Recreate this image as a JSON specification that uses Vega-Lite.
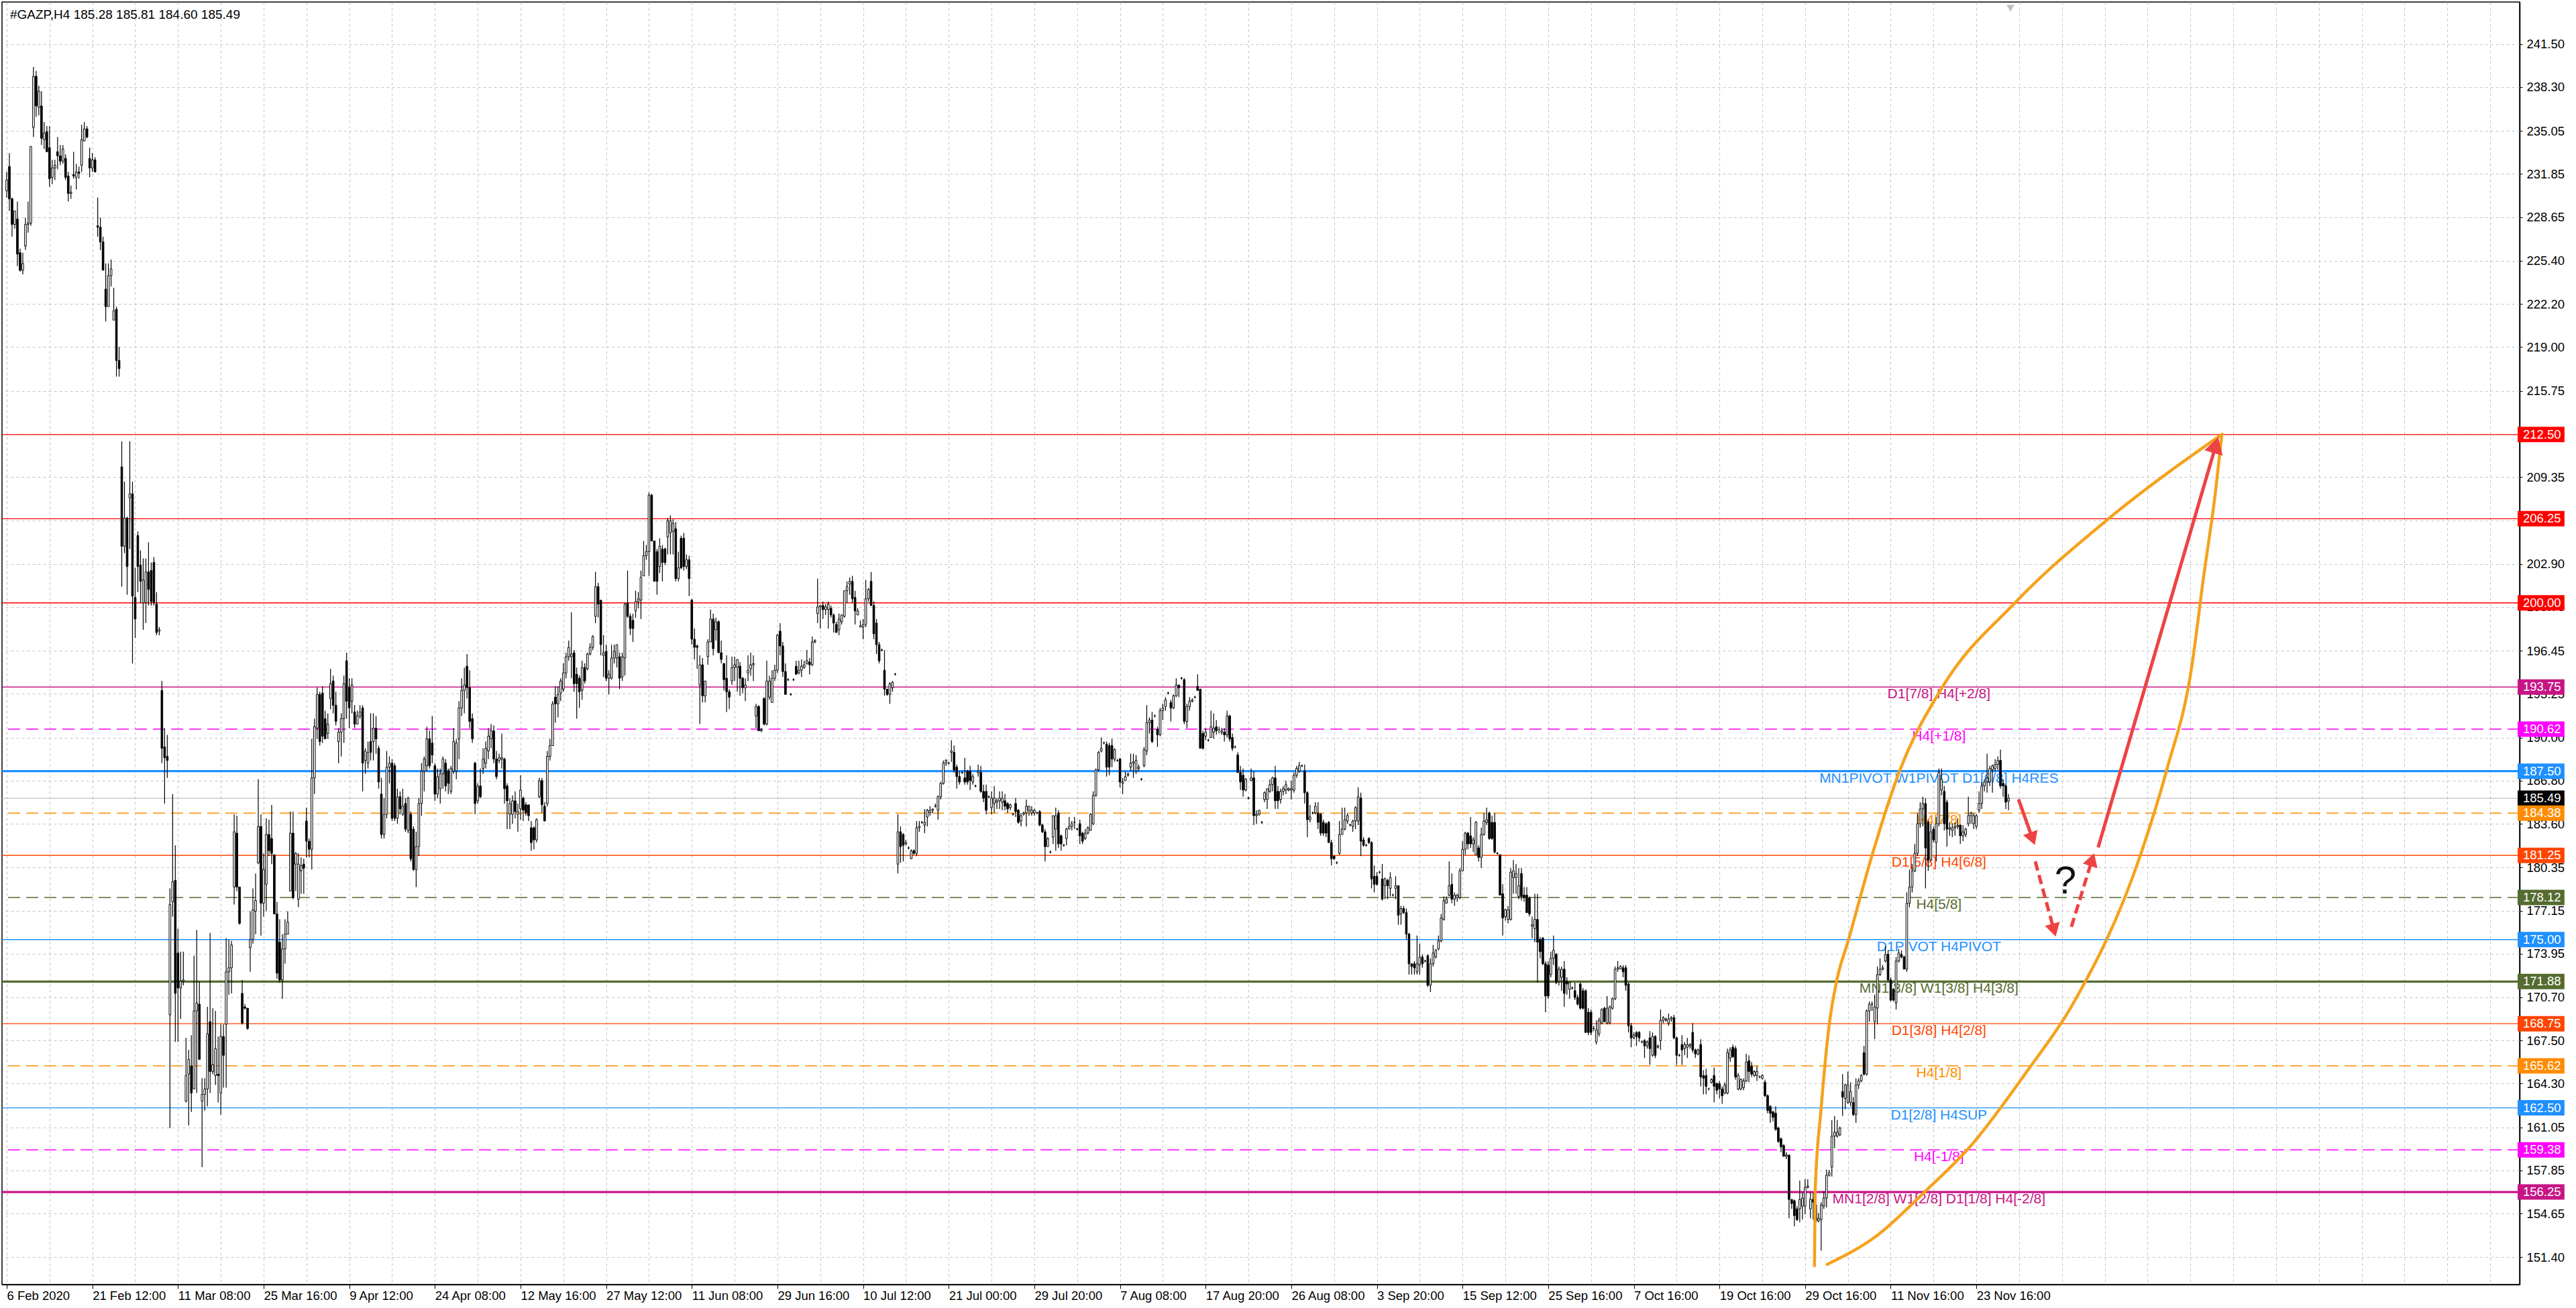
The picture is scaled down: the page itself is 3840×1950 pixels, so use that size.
{
  "$schema": "https://vega.github.io/schema/vega-lite/v6.json",
  "autosize": {"type": "none"},
  "padding": {"left": 3, "top": 3, "right": 84, "bottom": 35},
  "width": 3753,
  "height": 1912,
  "background": "white",
  "config": {
    "view": {"stroke": "black", "strokeWidth": 1.5},
    "font": "Liberation Sans",
    "axis": {"labelFont": "Liberation Sans", "labelFontSize": 18.5, "labelColor": "black", "domainColor": "black", "tickColor": "black", "gridColor": "#c4c4c4", "gridDash": [4, 4], "gridWidth": 1, "title": null, "zindex": 0}
  },
  "resolve": {"scale": {"size": "independent", "strokeDash": "independent", "angle": "independent"}},
  "datasets": {
    "bars": [
{"i":0,"o":230.6,"h":232.0,"l":230.1,"c":231.4},{"i":1,"o":232.4,"h":233.4,"l":229.1,"c":230.0},{"i":2,"o":230.0,"h":230.1,"l":227.2,"c":228.1},{"i":3,"o":228.1,"h":229.1,"l":227.8,"c":229.1},{"i":4,"o":228.5,"h":229.8,"l":225.0,"c":225.9},{"i":5,"o":226.0,"h":226.3,"l":224.6,"c":224.7},{"i":6,"o":224.7,"h":226.0,"l":224.4,"c":225.2},{"i":7,"o":226.5,"h":228.6,"l":226.2,"c":228.1},{"i":8,"o":228.1,"h":229.8,"l":227.5,"c":228.2},{"i":9,"o":228.2,"h":233.9,"l":228.0,"c":233.9},
{"i":10,"o":235.3,"h":239.8,"l":234.6,"c":239.1},{"i":11,"o":239.1,"h":239.5,"l":236.1,"c":236.9},{"i":12,"o":236.8,"h":238.4,"l":236.2,"c":238.0},{"i":13,"o":236.9,"h":238.0,"l":234.0,"c":234.5},{"i":14,"o":234.4,"h":235.7,"l":233.7,"c":234.9},{"i":15,"o":235.0,"h":235.4,"l":233.5,"c":233.5},{"i":16,"o":233.8,"h":235.4,"l":230.9,"c":231.5},{"i":17,"o":231.6,"h":232.9,"l":231.1,"c":232.3},{"i":18,"o":232.3,"h":232.9,"l":231.4,"c":232.5},{"i":19,"o":233.5,"h":234.6,"l":232.2,"c":233.2},
{"i":20,"o":233.2,"h":234.0,"l":232.5,"c":232.8},{"i":21,"o":232.8,"h":234.0,"l":232.6,"c":233.7},{"i":22,"o":233.0,"h":233.3,"l":231.4,"c":231.6},{"i":23,"o":231.7,"h":232.0,"l":229.8,"c":230.4},{"i":24,"o":230.4,"h":231.0,"l":230.0,"c":230.5},{"i":25,"o":231.8,"h":233.5,"l":231.5,"c":231.7},{"i":26,"o":231.6,"h":232.6,"l":230.7,"c":232.0},{"i":27,"o":232.0,"h":232.4,"l":231.5,"c":231.9},{"i":28,"o":232.5,"h":235.5,"l":232.0,"c":234.4},{"i":29,"o":234.3,"h":235.7,"l":234.3,"c":235.2},
{"i":30,"o":235.2,"h":235.4,"l":234.5,"c":234.6},{"i":31,"o":233.0,"h":233.8,"l":231.6,"c":232.3},{"i":32,"o":232.3,"h":233.4,"l":232.0,"c":232.9},{"i":33,"o":232.9,"h":233.1,"l":232.0,"c":232.0},{"i":34,"o":228.0,"h":230.1,"l":227.2,"c":227.9},{"i":35,"o":227.9,"h":228.6,"l":226.2,"c":226.8},{"i":36,"o":226.8,"h":227.2,"l":224.7,"c":224.7},{"i":37,"o":223.3,"h":225.2,"l":220.9,"c":222.0},{"i":38,"o":222.0,"h":225.2,"l":222.0,"c":224.3},{"i":39,"o":224.3,"h":225.5,"l":223.5,"c":224.8},
{"i":40,"o":221.0,"h":223.4,"l":221.0,"c":221.7},{"i":41,"o":221.8,"h":222.0,"l":216.8,"c":218.0},{"i":42,"o":218.0,"h":219.0,"l":216.8,"c":217.4},{"i":43,"o":210.1,"h":212.0,"l":201.2,"c":204.2},{"i":44,"o":204.2,"h":209.0,"l":203.7,"c":206.3},{"i":45,"o":206.3,"h":206.4,"l":200.6,"c":202.7},{"i":46,"o":207.8,"h":212.0,"l":204.0,"c":208.1},{"i":47,"o":208.1,"h":209.0,"l":195.5,"c":200.5},{"i":48,"o":200.4,"h":202.6,"l":197.4,"c":198.8},{"i":49,"o":205.0,"h":205.3,"l":200.8,"c":202.7},
{"i":50,"o":202.8,"h":203.9,"l":200.0,"c":201.6},{"i":51,"o":200.0,"h":203.3,"l":198.0,"c":201.7},{"i":52,"o":200.0,"h":203.3,"l":198.5,"c":202.3},{"i":53,"o":202.3,"h":204.5,"l":199.8,"c":201.0},{"i":54,"o":202.4,"h":203.0,"l":199.8,"c":200.1},{"i":55,"o":203.0,"h":203.4,"l":199.8,"c":200.0},{"i":56,"o":199.9,"h":200.8,"l":197.6,"c":197.8},{"i":57,"o":197.9,"h":198.2,"l":197.6,"c":198.0},{"i":58,"o":193.5,"h":194.2,"l":188.1,"c":189.2},{"i":59,"o":189.3,"h":190.7,"l":185.1,"c":188.5},
{"i":60,"o":188.6,"h":190.2,"l":187.0,"c":188.3},{"i":61,"o":169.4,"h":178.8,"l":161.0,"c":177.6},{"i":62,"o":177.8,"h":185.8,"l":176.7,"c":179.3},{"i":63,"o":179.4,"h":182.0,"l":167.4,"c":171.0},{"i":64,"o":174.0,"h":175.8,"l":167.4,"c":171.4},{"i":65,"o":171.4,"h":174.1,"l":169.1,"c":171.9},{"i":66,"o":171.9,"h":174.1,"l":171.6,"c":172.0},{"i":67,"o":163.0,"h":167.7,"l":162.9,"c":164.9},{"i":68,"o":165.0,"h":166.8,"l":161.2,"c":166.1},{"i":69,"o":165.6,"h":167.9,"l":162.2,"c":163.6},
{"i":70,"o":163.9,"h":173.8,"l":163.9,"c":169.7},{"i":71,"o":169.7,"h":175.7,"l":163.6,"c":170.3},{"i":72,"o":170.2,"h":171.9,"l":166.1,"c":166.1},{"i":73,"o":163.0,"h":164.7,"l":158.1,"c":163.5},{"i":74,"o":163.5,"h":164.7,"l":162.3,"c":163.9},{"i":75,"o":163.9,"h":170.0,"l":162.6,"c":168.0},{"i":76,"o":168.9,"h":175.5,"l":163.6,"c":165.2},{"i":77,"o":165.2,"h":169.9,"l":165.0,"c":165.7},{"i":78,"o":164.9,"h":169.7,"l":164.2,"c":166.9},{"i":79,"o":165.0,"h":167.8,"l":162.9,"c":164.9},
{"i":80,"o":163.6,"h":168.7,"l":162.0,"c":167.8},{"i":81,"o":167.8,"h":168.7,"l":164.0,"c":166.4},{"i":82,"o":168.7,"h":175.1,"l":164.0,"c":172.6},{"i":83,"o":172.6,"h":175.0,"l":170.9,"c":172.9},{"i":84,"o":172.9,"h":174.9,"l":171.0,"c":174.6},{"i":85,"o":178.9,"h":184.3,"l":177.6,"c":183.0},{"i":86,"o":182.9,"h":184.2,"l":178.6,"c":178.9},{"i":87,"o":178.9,"h":178.9,"l":176.1,"c":176.2},{"i":88,"o":171.0,"h":172.0,"l":168.7,"c":168.8},{"i":89,"o":170.0,"h":170.2,"l":169.8,"c":169.9},
{"i":90,"o":169.9,"h":169.9,"l":168.3,"c":168.4},{"i":91,"o":174.4,"h":177.1,"l":172.6,"c":175.0},{"i":92,"o":175.0,"h":178.8,"l":174.7,"c":177.2},{"i":93,"o":177.1,"h":179.9,"l":175.4,"c":177.9},{"i":94,"o":180.7,"h":186.9,"l":180.6,"c":183.4},{"i":95,"o":183.4,"h":184.3,"l":175.3,"c":177.7},{"i":96,"o":177.7,"h":181.4,"l":176.7,"c":180.2},{"i":97,"o":179.1,"h":184.0,"l":177.1,"c":182.8},{"i":98,"o":182.8,"h":183.9,"l":181.2,"c":181.6},{"i":99,"o":182.5,"h":185.0,"l":180.6,"c":181.4},
{"i":100,"o":181.3,"h":181.3,"l":176.9,"c":176.9},{"i":101,"o":176.9,"h":177.8,"l":172.1,"c":172.5},{"i":102,"o":174.8,"h":176.5,"l":171.8,"c":172.0},{"i":103,"o":172.0,"h":175.4,"l":170.6,"c":174.3},{"i":104,"o":174.3,"h":176.5,"l":173.2,"c":175.4},{"i":105,"o":175.4,"h":177.1,"l":175.4,"c":176.3},{"i":106,"o":178.6,"h":184.5,"l":178.6,"c":182.9},{"i":107,"o":182.9,"h":184.5,"l":178.0,"c":178.1},{"i":108,"o":180.6,"h":181.5,"l":178.6,"c":181.4},{"i":109,"o":178.0,"h":181.4,"l":177.4,"c":180.6},
{"i":110,"o":180.1,"h":181.1,"l":178.4,"c":180.5},{"i":111,"o":180.6,"h":181.0,"l":178.4,"c":180.3},{"i":112,"o":183.8,"h":184.8,"l":181.1,"c":182.3},{"i":113,"o":182.3,"h":182.5,"l":181.1,"c":181.7},{"i":114,"o":181.7,"h":189.9,"l":180.2,"c":187.0},{"i":115,"o":187.0,"h":191.4,"l":185.8,"c":190.8},{"i":116,"o":190.7,"h":193.7,"l":189.9,"c":193.2},{"i":117,"o":193.2,"h":193.4,"l":189.4,"c":189.7},{"i":118,"o":193.3,"h":193.8,"l":189.6,"c":190.1},{"i":119,"o":191.4,"h":192.0,"l":189.9,"c":189.9},
{"i":120,"o":190.3,"h":191.8,"l":189.9,"c":191.0},{"i":121,"o":192.9,"h":195.1,"l":192.1,"c":194.0},{"i":122,"o":194.2,"h":194.6,"l":191.8,"c":192.4},{"i":123,"o":192.4,"h":193.4,"l":190.9,"c":191.2},{"i":124,"o":189.7,"h":190.7,"l":188.1,"c":190.4},{"i":125,"o":190.4,"h":191.8,"l":188.6,"c":191.4},{"i":126,"o":191.4,"h":194.6,"l":189.6,"c":194.0},{"i":127,"o":195.7,"h":196.3,"l":191.4,"c":192.7},{"i":128,"o":193.7,"h":194.4,"l":190.7,"c":192.2},{"i":129,"o":192.7,"h":194.4,"l":191.8,"c":193.9},
{"i":130,"o":191.9,"h":192.4,"l":190.7,"c":191.0},{"i":131,"o":191.0,"h":192.0,"l":191.0,"c":191.6},{"i":132,"o":191.6,"h":192.4,"l":191.4,"c":191.9},{"i":133,"o":192.2,"h":192.4,"l":186.0,"c":188.1},{"i":134,"o":188.3,"h":189.2,"l":187.3,"c":189.0},{"i":135,"o":188.1,"h":189.7,"l":187.7,"c":188.9},{"i":136,"o":189.7,"h":191.8,"l":188.3,"c":188.9},{"i":137,"o":189.7,"h":191.8,"l":188.3,"c":190.7},{"i":138,"o":190.7,"h":191.6,"l":188.8,"c":189.9},{"i":139,"o":189.2,"h":189.4,"l":186.2,"c":186.7},
{"i":140,"o":185.8,"h":187.0,"l":182.5,"c":182.8},{"i":141,"o":182.8,"h":185.5,"l":182.5,"c":184.3},{"i":142,"o":184.3,"h":189.0,"l":184.0,"c":187.8},{"i":143,"o":187.8,"h":188.6,"l":186.6,"c":188.1},{"i":144,"o":188.1,"h":188.4,"l":183.8,"c":184.0},{"i":145,"o":187.9,"h":188.1,"l":183.8,"c":184.0},{"i":146,"o":184.0,"h":186.2,"l":183.6,"c":185.6},{"i":147,"o":185.6,"h":186.0,"l":184.3,"c":184.7},{"i":148,"o":184.3,"h":186.2,"l":184.2,"c":184.9},{"i":149,"o":185.1,"h":185.5,"l":183.0,"c":183.2},
{"i":150,"o":183.1,"h":185.6,"l":182.9,"c":185.5},{"i":151,"o":184.3,"h":184.5,"l":180.8,"c":181.0},{"i":152,"o":183.2,"h":183.4,"l":180.1,"c":180.2},{"i":153,"o":180.2,"h":183.0,"l":178.9,"c":181.9},{"i":154,"o":181.9,"h":185.5,"l":181.2,"c":185.1},{"i":155,"o":185.1,"h":188.1,"l":184.2,"c":187.5},{"i":156,"o":187.5,"h":188.6,"l":186.0,"c":188.4},{"i":157,"o":187.9,"h":190.8,"l":187.5,"c":189.9},{"i":158,"o":189.9,"h":190.5,"l":187.7,"c":187.9},{"i":159,"o":189.6,"h":191.6,"l":188.1,"c":188.7},
{"i":160,"o":187.9,"h":188.1,"l":185.3,"c":185.8},{"i":161,"o":185.8,"h":187.7,"l":185.5,"c":187.1},{"i":162,"o":186.2,"h":187.7,"l":185.1,"c":187.3},{"i":163,"o":187.3,"h":188.6,"l":186.2,"c":188.4},{"i":164,"o":188.1,"h":188.4,"l":186.0,"c":186.4},{"i":165,"o":187.5,"h":187.7,"l":185.8,"c":186.6},{"i":166,"o":186.0,"h":187.9,"l":185.8,"c":187.7},{"i":167,"o":187.5,"h":190.7,"l":187.3,"c":189.7},{"i":168,"o":187.5,"h":189.9,"l":186.9,"c":189.6},{"i":169,"o":189.9,"h":192.7,"l":188.4,"c":192.2},
{"i":170,"o":192.2,"h":194.4,"l":191.6,"c":193.5},{"i":171,"o":193.5,"h":195.2,"l":191.8,"c":193.9},{"i":172,"o":195.3,"h":196.2,"l":192.9,"c":193.7},{"i":173,"o":193.7,"h":195.0,"l":190.7,"c":191.2},{"i":174,"o":191.4,"h":191.8,"l":189.6,"c":189.9},{"i":175,"o":188.1,"h":188.2,"l":184.3,"c":185.1},{"i":176,"o":185.3,"h":186.6,"l":185.1,"c":186.4},{"i":177,"o":186.4,"h":187.7,"l":185.5,"c":185.6},{"i":178,"o":187.7,"h":189.2,"l":187.3,"c":188.4},{"i":179,"o":188.1,"h":189.7,"l":187.7,"c":189.2},
{"i":180,"o":189.0,"h":190.7,"l":188.4,"c":190.1},{"i":181,"o":189.9,"h":191.0,"l":189.2,"c":190.5},{"i":182,"o":190.5,"h":190.9,"l":188.1,"c":188.4},{"i":183,"o":188.4,"h":189.0,"l":186.9,"c":187.1},{"i":184,"o":188.3,"h":188.8,"l":188.1,"c":188.5},{"i":185,"o":188.4,"h":190.3,"l":187.7,"c":188.5},{"i":186,"o":188.4,"h":188.5,"l":185.1,"c":186.2},{"i":187,"o":186.4,"h":186.6,"l":183.2,"c":185.3},{"i":188,"o":184.3,"h":185.5,"l":183.2,"c":185.1},{"i":189,"o":184.3,"h":185.7,"l":183.6,"c":185.3},
{"i":190,"o":185.3,"h":186.0,"l":184.0,"c":184.5},{"i":191,"o":184.3,"h":185.1,"l":183.0,"c":184.5},{"i":192,"o":184.7,"h":187.2,"l":183.9,"c":186.1},{"i":193,"o":185.5,"h":185.6,"l":183.8,"c":184.6},{"i":194,"o":185.0,"h":185.2,"l":184.2,"c":184.4},{"i":195,"o":185.0,"h":185.0,"l":183.8,"c":184.2},{"i":196,"o":183.3,"h":183.8,"l":181.6,"c":182.2},{"i":197,"o":183.3,"h":183.4,"l":181.7,"c":182.4},{"i":198,"o":182.4,"h":184.0,"l":182.2,"c":183.9},{"i":199,"o":185.6,"h":187.0,"l":185.5,"c":186.8},
{"i":200,"o":186.8,"h":187.0,"l":184.4,"c":185.0},{"i":201,"o":184.9,"h":185.2,"l":183.8,"c":183.8},{"i":202,"o":185.1,"h":189.0,"l":184.9,"c":188.6},{"i":203,"o":188.6,"h":189.9,"l":188.3,"c":189.4},{"i":204,"o":189.4,"h":192.7,"l":189.4,"c":192.5},{"i":205,"o":193.0,"h":193.8,"l":191.1,"c":192.5},{"i":206,"o":192.5,"h":193.8,"l":191.5,"c":193.2},{"i":207,"o":193.3,"h":194.4,"l":192.7,"c":194.2},{"i":208,"o":193.6,"h":195.5,"l":193.4,"c":194.8},{"i":209,"o":194.8,"h":196.3,"l":194.4,"c":196.0},
{"i":210,"o":196.0,"h":197.2,"l":195.7,"c":196.7},{"i":211,"o":196.0,"h":199.3,"l":194.4,"c":196.2},{"i":212,"o":196.3,"h":196.5,"l":193.4,"c":194.0},{"i":213,"o":194.7,"h":195.2,"l":191.4,"c":194.0},{"i":214,"o":194.4,"h":194.6,"l":192.2,"c":193.4},{"i":215,"o":193.5,"h":195.7,"l":192.8,"c":195.2},{"i":216,"o":195.2,"h":195.5,"l":194.0,"c":194.2},{"i":217,"o":195.1,"h":196.3,"l":195.0,"c":196.2},{"i":218,"o":196.2,"h":197.0,"l":196.1,"c":196.7},{"i":219,"o":196.7,"h":197.6,"l":196.5,"c":197.5},
{"i":220,"o":199.0,"h":202.3,"l":198.5,"c":201.2},{"i":221,"o":201.2,"h":201.5,"l":198.9,"c":199.9},{"i":222,"o":200.2,"h":200.2,"l":196.1,"c":196.9},{"i":223,"o":196.1,"h":197.6,"l":194.5,"c":196.3},{"i":224,"o":196.4,"h":196.9,"l":194.2,"c":194.4},{"i":225,"o":194.4,"h":195.0,"l":193.2,"c":194.7},{"i":226,"o":194.4,"h":196.9,"l":194.3,"c":195.9},{"i":227,"o":195.9,"h":196.9,"l":195.5,"c":196.4},{"i":228,"o":195.9,"h":196.9,"l":195.2,"c":196.9},{"i":229,"o":196.0,"h":196.3,"l":193.6,"c":194.4},
{"i":230,"o":194.5,"h":196.3,"l":194.2,"c":196.0},{"i":231,"o":195.9,"h":200.0,"l":194.6,"c":199.9},{"i":232,"o":200.0,"h":202.4,"l":198.9,"c":199.0},{"i":233,"o":199.0,"h":199.2,"l":197.6,"c":198.1},{"i":234,"o":198.7,"h":199.2,"l":197.1,"c":198.1},{"i":235,"o":199.4,"h":200.9,"l":198.9,"c":200.1},{"i":236,"o":200.1,"h":200.8,"l":199.6,"c":200.3},{"i":237,"o":200.2,"h":202.4,"l":198.8,"c":201.9},{"i":238,"o":202.0,"h":204.6,"l":202.0,"c":203.5},{"i":239,"o":203.5,"h":204.3,"l":203.2,"c":203.8},
{"i":240,"o":203.8,"h":208.2,"l":202.0,"c":208.0},{"i":241,"o":208.0,"h":208.1,"l":204.6,"c":204.6},{"i":242,"o":204.6,"h":204.6,"l":201.6,"c":201.6},{"i":243,"o":203.8,"h":204.0,"l":200.6,"c":201.6},{"i":244,"o":202.7,"h":204.8,"l":202.2,"c":204.2},{"i":245,"o":204.0,"h":204.3,"l":201.6,"c":203.0},{"i":246,"o":204.0,"h":204.1,"l":202.8,"c":203.0},{"i":247,"o":204.9,"h":206.3,"l":203.6,"c":206.1},{"i":248,"o":205.2,"h":206.5,"l":203.6,"c":206.1},{"i":249,"o":205.3,"h":206.2,"l":203.6,"c":205.9},
{"i":250,"o":205.5,"h":206.0,"l":201.6,"c":201.8},{"i":251,"o":201.8,"h":203.8,"l":201.6,"c":202.6},{"i":252,"o":204.8,"h":205.0,"l":202.5,"c":202.6},{"i":253,"o":204.8,"h":205.2,"l":202.4,"c":202.7},{"i":254,"o":202.7,"h":203.6,"l":202.5,"c":203.2},{"i":255,"o":203.2,"h":203.5,"l":200.5,"c":201.8},{"i":256,"o":200.2,"h":200.3,"l":196.9,"c":197.3},{"i":257,"o":197.3,"h":198.1,"l":195.8,"c":196.7},{"i":258,"o":196.8,"h":196.9,"l":195.1,"c":196.7},{"i":259,"o":193.9,"h":196.1,"l":191.0,"c":195.4},
{"i":260,"o":195.4,"h":195.9,"l":192.6,"c":193.1},{"i":261,"o":193.1,"h":194.2,"l":192.6,"c":194.2},{"i":262,"o":196.0,"h":197.3,"l":195.4,"c":197.1},{"i":263,"o":197.1,"h":199.5,"l":197.1,"c":198.8},{"i":264,"o":198.8,"h":199.2,"l":196.1,"c":196.6},{"i":265,"o":198.0,"h":198.9,"l":197.2,"c":198.6},{"i":266,"o":198.6,"h":198.7,"l":196.3,"c":196.3},{"i":267,"o":196.3,"h":197.2,"l":195.5,"c":195.8},{"i":268,"o":195.5,"h":195.5,"l":193.5,"c":194.3},{"i":269,"o":194.4,"h":196.1,"l":191.9,"c":193.4},
{"i":270,"o":193.4,"h":193.6,"l":192.1,"c":193.0},{"i":271,"o":194.2,"h":196.0,"l":193.9,"c":195.2},{"i":272,"o":195.2,"h":196.0,"l":194.2,"c":195.4},{"i":273,"o":195.2,"h":195.8,"l":193.4,"c":195.8},{"i":274,"o":195.3,"h":195.6,"l":193.1,"c":194.4},{"i":275,"o":194.4,"h":194.5,"l":193.3,"c":193.7},{"i":276,"o":193.7,"h":194.4,"l":192.7,"c":193.9},{"i":277,"o":194.8,"h":196.1,"l":194.2,"c":195.0},{"i":278,"o":195.1,"h":196.3,"l":194.6,"c":195.4},{"i":279,"o":195.4,"h":196.1,"l":194.2,"c":195.5},
{"i":280,"o":191.6,"h":192.5,"l":190.7,"c":192.3},{"i":281,"o":192.3,"h":192.4,"l":190.5,"c":190.5},{"i":282,"o":190.5,"h":190.7,"l":190.4,"c":190.6},{"i":283,"o":192.9,"h":193.0,"l":190.9,"c":191.0},{"i":284,"o":191.0,"h":195.7,"l":190.9,"c":194.2},{"i":285,"o":193.0,"h":194.6,"l":192.8,"c":194.2},{"i":286,"o":192.6,"h":195.0,"l":192.6,"c":194.4},{"i":287,"o":194.4,"h":195.4,"l":194.2,"c":195.0},{"i":288,"o":195.0,"h":197.7,"l":194.8,"c":197.6},{"i":289,"o":197.9,"h":198.5,"l":196.1,"c":196.8},
{"i":290,"o":196.8,"h":197.1,"l":194.5,"c":194.9},{"i":291,"o":194.9,"h":195.5,"l":193.2,"c":193.2},{"i":292,"o":194.3,"h":194.4,"l":194.2,"c":194.3},{"i":293,"o":193.2,"h":193.3,"l":193.1,"c":193.2},{"i":294,"o":194.3,"h":194.4,"l":194.2,"c":194.3},{"i":295,"o":195.3,"h":195.7,"l":194.7,"c":194.7},{"i":296,"o":194.8,"h":195.7,"l":194.7,"c":195.0},{"i":297,"o":195.0,"h":195.8,"l":194.5,"c":195.3},{"i":298,"o":195.2,"h":195.7,"l":195.1,"c":195.4},{"i":299,"o":195.5,"h":196.5,"l":195.4,"c":195.7},
{"i":300,"o":195.6,"h":195.9,"l":194.7,"c":195.4},{"i":301,"o":195.4,"h":197.5,"l":195.3,"c":197.1},{"i":302,"o":197.1,"h":197.3,"l":197.0,"c":197.2},{"i":303,"o":199.2,"h":201.8,"l":198.5,"c":199.7},{"i":304,"o":199.7,"h":199.8,"l":198.1,"c":199.8},{"i":305,"o":199.8,"h":200.1,"l":198.8,"c":199.5},{"i":306,"o":199.5,"h":199.9,"l":199.1,"c":199.7},{"i":307,"o":199.5,"h":200.1,"l":198.1,"c":199.9},{"i":308,"o":199.6,"h":199.8,"l":198.9,"c":199.1},{"i":309,"o":199.1,"h":199.2,"l":197.8,"c":198.5},
{"i":310,"o":198.4,"h":198.6,"l":197.8,"c":197.8},{"i":311,"o":198.0,"h":199.2,"l":197.6,"c":198.8},{"i":312,"o":198.6,"h":199.1,"l":198.4,"c":199.1},{"i":313,"o":199.0,"h":200.9,"l":198.9,"c":200.9},{"i":314,"o":200.9,"h":201.6,"l":200.0,"c":201.2},{"i":315,"o":201.4,"h":201.9,"l":200.6,"c":201.6},{"i":316,"o":201.6,"h":202.0,"l":200.0,"c":200.3},{"i":317,"o":200.4,"h":200.9,"l":198.4,"c":199.4},{"i":318,"o":199.1,"h":199.6,"l":199.1,"c":199.4},{"i":319,"o":198.2,"h":198.7,"l":198.2,"c":198.3},
{"i":320,"o":198.2,"h":198.8,"l":197.3,"c":198.4},{"i":321,"o":198.4,"h":201.7,"l":198.2,"c":200.3},{"i":322,"o":200.3,"h":201.1,"l":200.1,"c":201.0},{"i":323,"o":201.6,"h":202.3,"l":199.8,"c":199.8},{"i":324,"o":199.8,"h":200.1,"l":197.3,"c":197.7},{"i":325,"o":198.5,"h":198.8,"l":196.2,"c":196.9},{"i":326,"o":196.9,"h":197.1,"l":195.5,"c":195.7},{"i":327,"o":196.5,"h":196.6,"l":196.4,"c":196.5},{"i":328,"o":195.0,"h":196.5,"l":193.1,"c":193.6},{"i":329,"o":193.6,"h":193.6,"l":193.1,"c":193.2},
{"i":330,"o":193.2,"h":194.1,"l":192.5,"c":194.0},{"i":331,"o":193.7,"h":194.2,"l":193.4,"c":194.1},{"i":332,"o":194.7,"h":194.8,"l":194.6,"c":194.7},{"i":333,"o":180.6,"h":184.3,"l":179.9,"c":183.0},{"i":334,"o":183.0,"h":183.4,"l":180.7,"c":181.9},{"i":335,"o":182.8,"h":182.9,"l":180.8,"c":182.0},{"i":336,"o":182.1,"h":182.4,"l":182.0,"c":182.2},{"i":337,"o":181.8,"h":181.9,"l":181.7,"c":181.8},{"i":338,"o":181.0,"h":181.7,"l":181.0,"c":181.6},{"i":339,"o":181.6,"h":181.7,"l":181.3,"c":181.4},
{"i":340,"o":181.4,"h":183.8,"l":181.2,"c":183.3},{"i":341,"o":183.3,"h":183.8,"l":183.0,"c":183.4},{"i":342,"o":183.7,"h":183.8,"l":183.6,"c":183.7},{"i":343,"o":183.5,"h":184.7,"l":182.9,"c":183.7},{"i":344,"o":184.1,"h":184.7,"l":183.4,"c":184.6},{"i":345,"o":184.4,"h":184.9,"l":184.2,"c":184.6},{"i":346,"o":184.6,"h":184.7,"l":184.4,"c":184.7},{"i":347,"o":184.9,"h":185.1,"l":184.8,"c":184.9},{"i":348,"o":184.6,"h":185.7,"l":183.9,"c":185.6},{"i":349,"o":185.6,"h":186.7,"l":185.4,"c":186.6},
{"i":350,"o":186.6,"h":188.3,"l":186.5,"c":188.1},{"i":351,"o":188.1,"h":188.4,"l":187.9,"c":188.3},{"i":352,"o":188.1,"h":188.2,"l":188.0,"c":188.1},{"i":353,"o":188.9,"h":189.8,"l":188.2,"c":189.0},{"i":354,"o":188.9,"h":189.4,"l":187.4,"c":187.6},{"i":355,"o":187.8,"h":188.0,"l":186.2,"c":187.1},{"i":356,"o":187.1,"h":187.5,"l":186.5,"c":186.7},{"i":357,"o":187.4,"h":187.5,"l":187.3,"c":187.4},{"i":358,"o":187.0,"h":188.5,"l":186.5,"c":186.7},{"i":359,"o":187.5,"h":187.6,"l":186.5,"c":186.7},
{"i":360,"o":187.5,"h":187.9,"l":186.1,"c":186.8},{"i":361,"o":186.7,"h":187.3,"l":186.5,"c":187.1},{"i":362,"o":186.4,"h":186.5,"l":186.3,"c":186.4},{"i":363,"o":187.4,"h":188.0,"l":187.1,"c":187.5},{"i":364,"o":187.4,"h":187.9,"l":185.9,"c":186.0},{"i":365,"o":186.0,"h":186.5,"l":185.2,"c":185.5},{"i":366,"o":186.0,"h":186.5,"l":184.3,"c":184.6},{"i":367,"o":185.6,"h":185.7,"l":185.5,"c":185.6},{"i":368,"o":184.8,"h":186.0,"l":184.3,"c":185.5},{"i":369,"o":185.1,"h":186.4,"l":184.4,"c":185.5},
{"i":370,"o":185.2,"h":185.5,"l":184.7,"c":185.3},{"i":371,"o":185.3,"h":186.0,"l":184.7,"c":185.5},{"i":372,"o":185.2,"h":186.0,"l":184.6,"c":185.5},{"i":373,"o":185.3,"h":185.8,"l":184.6,"c":184.9},{"i":374,"o":185.1,"h":185.2,"l":184.4,"c":184.7},{"i":375,"o":184.8,"h":185.1,"l":184.6,"c":185.0},{"i":376,"o":184.3,"h":184.4,"l":184.2,"c":184.3},{"i":377,"o":185.1,"h":185.5,"l":184.1,"c":184.5},{"i":378,"o":184.6,"h":184.7,"l":183.6,"c":183.7},{"i":379,"o":183.8,"h":184.4,"l":183.4,"c":184.2},
{"i":380,"o":184.3,"h":184.5,"l":184.2,"c":184.4},{"i":381,"o":184.4,"h":185.4,"l":183.4,"c":184.9},{"i":382,"o":184.6,"h":184.9,"l":184.2,"c":184.9},{"i":383,"o":184.4,"h":184.9,"l":184.2,"c":184.6},{"i":384,"o":184.4,"h":184.7,"l":184.2,"c":184.6},{"i":385,"o":184.4,"h":184.5,"l":184.3,"c":184.4},{"i":386,"o":184.5,"h":184.6,"l":183.4,"c":183.5},{"i":387,"o":183.5,"h":183.6,"l":182.9,"c":183.0},{"i":388,"o":183.0,"h":183.2,"l":180.8,"c":181.9},{"i":389,"o":181.9,"h":182.6,"l":181.9,"c":182.5},
{"i":390,"o":181.5,"h":181.6,"l":181.4,"c":181.5},{"i":391,"o":182.6,"h":184.2,"l":182.1,"c":184.2},{"i":392,"o":183.2,"h":184.8,"l":181.6,"c":184.2},{"i":393,"o":184.4,"h":184.6,"l":181.8,"c":182.1},{"i":394,"o":182.7,"h":182.8,"l":181.6,"c":182.1},{"i":395,"o":182.0,"h":182.1,"l":181.9,"c":182.0},{"i":396,"o":182.5,"h":183.3,"l":182.0,"c":183.2},{"i":397,"o":183.2,"h":184.1,"l":183.2,"c":183.4},{"i":398,"o":183.4,"h":183.8,"l":183.1,"c":183.6},{"i":399,"o":183.7,"h":184.1,"l":183.2,"c":183.7},
{"i":400,"o":183.2,"h":183.3,"l":183.1,"c":183.2},{"i":401,"o":183.6,"h":183.9,"l":182.1,"c":182.7},{"i":402,"o":182.9,"h":183.0,"l":182.1,"c":182.3},{"i":403,"o":182.5,"h":183.2,"l":182.4,"c":182.9},{"i":404,"o":182.9,"h":183.4,"l":182.8,"c":183.3},{"i":405,"o":183.1,"h":184.4,"l":183.1,"c":184.3},{"i":406,"o":183.6,"h":186.0,"l":183.5,"c":185.7},{"i":407,"o":185.7,"h":187.7,"l":185.6,"c":187.6},{"i":408,"o":187.6,"h":189.0,"l":187.5,"c":188.9},{"i":409,"o":189.0,"h":190.0,"l":188.9,"c":189.2},
{"i":410,"o":189.6,"h":189.7,"l":189.5,"c":189.6},{"i":411,"o":189.5,"h":189.7,"l":187.1,"c":187.8},{"i":412,"o":189.4,"h":189.6,"l":187.2,"c":187.8},{"i":413,"o":189.4,"h":189.9,"l":187.8,"c":188.4},{"i":414,"o":188.4,"h":189.2,"l":188.2,"c":189.1},{"i":415,"o":188.3,"h":188.4,"l":188.2,"c":188.3},{"i":416,"o":188.4,"h":188.5,"l":186.3,"c":186.7},{"i":417,"o":186.6,"h":187.0,"l":185.8,"c":186.7},{"i":418,"o":186.8,"h":187.5,"l":186.8,"c":187.1},{"i":419,"o":187.2,"h":187.4,"l":187.1,"c":187.3},
{"i":420,"o":187.8,"h":188.8,"l":187.5,"c":188.1},{"i":421,"o":188.1,"h":188.8,"l":187.0,"c":188.2},{"i":422,"o":187.5,"h":188.7,"l":187.3,"c":188.3},{"i":423,"o":187.7,"h":188.0,"l":187.5,"c":187.8},{"i":424,"o":186.9,"h":187.0,"l":186.8,"c":186.9},{"i":425,"o":187.9,"h":189.3,"l":187.8,"c":189.1},{"i":426,"o":189.0,"h":192.4,"l":188.7,"c":191.1},{"i":427,"o":191.1,"h":191.5,"l":190.3,"c":191.3},{"i":428,"o":191.3,"h":191.9,"l":189.6,"c":189.7},{"i":429,"o":191.6,"h":191.7,"l":191.5,"c":191.6},
{"i":430,"o":190.6,"h":190.8,"l":189.3,"c":190.2},{"i":431,"o":190.2,"h":192.2,"l":190.1,"c":192.0},{"i":432,"o":192.0,"h":192.5,"l":191.3,"c":192.2},{"i":433,"o":192.3,"h":193.0,"l":192.0,"c":192.8},{"i":434,"o":193.3,"h":193.4,"l":193.2,"c":193.3},{"i":435,"o":192.6,"h":192.8,"l":191.2,"c":192.2},{"i":436,"o":192.2,"h":193.2,"l":192.1,"c":193.1},{"i":437,"o":193.1,"h":194.4,"l":193.0,"c":193.9},{"i":438,"o":193.9,"h":193.9,"l":193.0,"c":193.7},{"i":439,"o":194.4,"h":194.5,"l":194.3,"c":194.4},
{"i":440,"o":194.3,"h":194.4,"l":191.0,"c":191.2},{"i":441,"o":191.2,"h":192.5,"l":190.7,"c":192.3},{"i":442,"o":192.3,"h":193.0,"l":192.0,"c":192.7},{"i":443,"o":192.7,"h":192.9,"l":192.6,"c":192.8},{"i":444,"o":193.0,"h":193.1,"l":192.9,"c":193.0},{"i":445,"o":193.8,"h":194.7,"l":193.5,"c":193.5},{"i":446,"o":193.6,"h":193.6,"l":189.2,"c":189.2},{"i":447,"o":190.3,"h":190.5,"l":189.1,"c":189.2},{"i":448,"o":190.1,"h":190.7,"l":189.8,"c":190.4},{"i":449,"o":189.8,"h":189.9,"l":189.7,"c":189.8},
{"i":450,"o":190.0,"h":192.0,"l":190.0,"c":190.8},{"i":451,"o":190.4,"h":191.8,"l":189.9,"c":190.7},{"i":452,"o":190.8,"h":191.3,"l":190.2,"c":190.5},{"i":453,"o":190.6,"h":190.8,"l":190.3,"c":190.6},{"i":454,"o":190.4,"h":190.7,"l":190.2,"c":190.5},{"i":455,"o":190.4,"h":190.7,"l":189.7,"c":190.2},{"i":456,"o":190.2,"h":192.0,"l":190.0,"c":191.6},{"i":457,"o":191.6,"h":191.7,"l":189.7,"c":189.9},{"i":458,"o":190.0,"h":190.3,"l":189.0,"c":189.2},{"i":459,"o":189.3,"h":189.4,"l":189.2,"c":189.3},
{"i":460,"o":188.7,"h":188.9,"l":187.4,"c":187.4},{"i":461,"o":187.4,"h":187.9,"l":186.1,"c":186.7},{"i":462,"o":187.2,"h":187.7,"l":185.6,"c":186.1},{"i":463,"o":186.1,"h":187.0,"l":186.0,"c":186.9},{"i":464,"o":185.5,"h":185.6,"l":185.4,"c":185.5},{"i":465,"o":186.8,"h":187.7,"l":186.8,"c":187.0},{"i":466,"o":187.0,"h":187.5,"l":183.5,"c":184.2},{"i":467,"o":184.2,"h":184.6,"l":183.6,"c":184.3},{"i":468,"o":184.3,"h":184.6,"l":184.2,"c":184.6},{"i":469,"o":183.7,"h":183.8,"l":183.6,"c":183.7},
{"i":470,"o":185.4,"h":186.0,"l":185.2,"c":185.9},{"i":471,"o":185.4,"h":186.2,"l":184.7,"c":186.2},{"i":472,"o":186.0,"h":186.9,"l":185.9,"c":186.5},{"i":473,"o":186.5,"h":187.1,"l":186.0,"c":187.0},{"i":474,"o":187.0,"h":187.9,"l":184.7,"c":185.3},{"i":475,"o":186.0,"h":186.4,"l":184.7,"c":185.3},{"i":476,"o":185.4,"h":186.2,"l":185.1,"c":186.0},{"i":477,"o":186.0,"h":186.4,"l":185.7,"c":186.2},{"i":478,"o":186.1,"h":186.8,"l":185.8,"c":186.5},{"i":479,"o":186.1,"h":186.3,"l":186.0,"c":186.2},
{"i":480,"o":186.1,"h":186.8,"l":185.4,"c":186.2},{"i":481,"o":186.1,"h":187.4,"l":185.9,"c":187.2},{"i":482,"o":187.2,"h":187.9,"l":187.0,"c":187.7},{"i":483,"o":187.5,"h":188.2,"l":187.4,"c":187.9},{"i":484,"o":187.9,"h":188.0,"l":187.8,"c":187.9},{"i":485,"o":187.5,"h":188.0,"l":185.1,"c":185.9},{"i":486,"o":185.9,"h":186.0,"l":182.6,"c":183.9},{"i":487,"o":183.9,"h":185.0,"l":183.7,"c":184.1},{"i":488,"o":184.4,"h":184.5,"l":184.3,"c":184.4},{"i":489,"o":184.4,"h":185.2,"l":184.3,"c":184.9},
{"i":490,"o":184.4,"h":185.2,"l":183.2,"c":183.7},{"i":491,"o":184.3,"h":184.4,"l":182.7,"c":182.9},{"i":492,"o":183.7,"h":183.9,"l":182.7,"c":182.9},{"i":493,"o":183.6,"h":183.7,"l":182.6,"c":182.9},{"i":494,"o":183.7,"h":183.8,"l":182.2,"c":182.2},{"i":495,"o":182.2,"h":182.4,"l":180.5,"c":181.0},{"i":496,"o":181.2,"h":181.2,"l":180.9,"c":181.0},{"i":497,"o":180.7,"h":180.8,"l":180.6,"c":180.7},{"i":498,"o":181.4,"h":183.8,"l":181.3,"c":182.8},{"i":499,"o":182.8,"h":184.8,"l":182.8,"c":183.2},
{"i":500,"o":183.2,"h":184.8,"l":183.1,"c":183.9},{"i":501,"o":183.8,"h":184.4,"l":183.6,"c":184.2},{"i":502,"o":183.5,"h":183.6,"l":183.4,"c":183.5},{"i":503,"o":183.4,"h":183.9,"l":183.0,"c":183.8},{"i":504,"o":183.8,"h":184.9,"l":183.2,"c":184.8},{"i":505,"o":183.8,"h":186.3,"l":183.5,"c":185.6},{"i":506,"o":185.5,"h":185.9,"l":181.2,"c":182.3},{"i":507,"o":182.4,"h":182.6,"l":181.9,"c":182.0},{"i":508,"o":182.0,"h":182.1,"l":181.9,"c":182.0},{"i":509,"o":182.5,"h":182.6,"l":182.1,"c":182.2},
{"i":510,"o":182.2,"h":182.3,"l":178.8,"c":179.5},{"i":511,"o":179.7,"h":180.5,"l":178.5,"c":179.1},{"i":512,"o":179.7,"h":180.0,"l":179.0,"c":179.1},{"i":513,"o":180.0,"h":180.1,"l":179.9,"c":180.0},{"i":514,"o":179.5,"h":180.6,"l":177.9,"c":178.0},{"i":515,"o":179.0,"h":179.6,"l":178.0,"c":179.5},{"i":516,"o":179.4,"h":179.5,"l":178.0,"c":179.0},{"i":517,"o":178.8,"h":180.0,"l":178.2,"c":179.6},{"i":518,"o":178.3,"h":178.4,"l":178.2,"c":178.3},{"i":519,"o":178.8,"h":179.7,"l":178.0,"c":179.0},
{"i":520,"o":179.0,"h":179.0,"l":176.1,"c":176.8},{"i":521,"o":176.9,"h":177.5,"l":176.1,"c":177.3},{"i":522,"o":177.3,"h":177.5,"l":176.9,"c":177.0},{"i":523,"o":177.0,"h":177.3,"l":175.0,"c":175.4},{"i":524,"o":175.4,"h":175.5,"l":172.4,"c":173.2},{"i":525,"o":173.2,"h":173.2,"l":172.4,"c":173.0},{"i":526,"o":173.2,"h":173.4,"l":172.4,"c":172.9},{"i":527,"o":172.6,"h":175.3,"l":172.4,"c":173.2},{"i":528,"o":173.1,"h":174.7,"l":172.4,"c":173.7},{"i":529,"o":173.7,"h":173.9,"l":172.9,"c":173.2},
{"i":530,"o":173.4,"h":173.5,"l":173.3,"c":173.4},{"i":531,"o":173.8,"h":173.9,"l":171.5,"c":171.6},{"i":532,"o":171.6,"h":173.6,"l":171.1,"c":173.2},{"i":533,"o":173.2,"h":174.6,"l":173.0,"c":174.0},{"i":534,"o":173.7,"h":174.3,"l":173.6,"c":174.2},{"i":535,"o":174.3,"h":175.3,"l":174.2,"c":174.9},{"i":536,"o":174.9,"h":176.9,"l":174.8,"c":176.6},{"i":537,"o":176.5,"h":178.2,"l":176.4,"c":177.9},{"i":538,"o":177.7,"h":178.2,"l":177.7,"c":178.0},{"i":539,"o":178.3,"h":180.8,"l":178.2,"c":179.0},
{"i":540,"o":179.1,"h":179.9,"l":177.7,"c":178.0},{"i":541,"o":178.0,"h":178.5,"l":177.5,"c":178.3},{"i":542,"o":178.1,"h":178.4,"l":177.8,"c":178.3},{"i":543,"o":178.1,"h":180.3,"l":178.0,"c":180.1},{"i":544,"o":180.1,"h":182.3,"l":180.1,"c":181.7},{"i":545,"o":181.7,"h":183.0,"l":181.3,"c":182.9},{"i":546,"o":182.9,"h":183.0,"l":181.7,"c":182.1},{"i":547,"o":182.7,"h":184.1,"l":181.8,"c":182.1},{"i":548,"o":182.1,"h":182.6,"l":181.5,"c":182.4},{"i":549,"o":181.3,"h":183.8,"l":181.3,"c":183.7},
{"i":550,"o":181.8,"h":182.0,"l":180.8,"c":181.1},{"i":551,"o":181.1,"h":183.3,"l":180.3,"c":182.8},{"i":552,"o":182.8,"h":184.4,"l":182.7,"c":183.8},{"i":553,"o":183.7,"h":184.8,"l":183.5,"c":183.9},{"i":554,"o":184.4,"h":184.5,"l":182.4,"c":182.5},{"i":555,"o":183.7,"h":184.2,"l":182.4,"c":182.5},{"i":556,"o":183.7,"h":184.4,"l":181.4,"c":181.5},{"i":557,"o":181.4,"h":181.5,"l":181.3,"c":181.4},{"i":558,"o":181.3,"h":181.3,"l":178.3,"c":178.3},{"i":559,"o":178.4,"h":179.1,"l":175.3,"c":176.6},
{"i":560,"o":176.7,"h":177.3,"l":176.4,"c":177.2},{"i":561,"o":176.5,"h":177.5,"l":176.2,"c":177.2},{"i":562,"o":176.5,"h":180.3,"l":176.4,"c":180.0},{"i":563,"o":179.6,"h":180.9,"l":178.4,"c":180.1},{"i":564,"o":179.6,"h":180.6,"l":178.4,"c":179.9},{"i":565,"o":178.2,"h":180.3,"l":178.0,"c":179.0},{"i":566,"o":179.9,"h":180.3,"l":177.9,"c":178.2},{"i":567,"o":178.3,"h":178.9,"l":177.8,"c":178.1},{"i":568,"o":178.3,"h":178.9,"l":177.0,"c":177.0},{"i":569,"o":178.1,"h":178.2,"l":176.7,"c":176.9},
{"i":570,"o":176.0,"h":176.7,"l":175.1,"c":176.1},{"i":571,"o":175.8,"h":178.4,"l":174.8,"c":176.5},{"i":572,"o":176.5,"h":178.4,"l":171.8,"c":174.8},{"i":573,"o":175.0,"h":175.2,"l":173.6,"c":174.1},{"i":574,"o":175.1,"h":175.2,"l":173.1,"c":173.2},{"i":575,"o":173.2,"h":173.4,"l":169.6,"c":170.8},{"i":576,"o":173.1,"h":173.4,"l":170.6,"c":170.8},{"i":577,"o":172.4,"h":174.1,"l":172.2,"c":173.6},{"i":578,"o":173.6,"h":175.3,"l":173.1,"c":174.2},{"i":579,"o":173.9,"h":174.0,"l":171.7,"c":171.8},
{"i":580,"o":171.9,"h":173.0,"l":171.6,"c":172.8},{"i":581,"o":172.2,"h":173.0,"l":171.2,"c":172.8},{"i":582,"o":172.8,"h":173.4,"l":170.0,"c":171.0},{"i":583,"o":171.9,"h":172.2,"l":170.9,"c":171.7},{"i":584,"o":171.3,"h":171.9,"l":170.6,"c":171.8},{"i":585,"o":171.4,"h":171.5,"l":171.3,"c":171.4},{"i":586,"o":171.2,"h":171.8,"l":170.5,"c":170.7},{"i":587,"o":170.7,"h":170.9,"l":170.1,"c":170.2},{"i":588,"o":171.7,"h":171.8,"l":169.8,"c":169.9},{"i":589,"o":171.2,"h":171.4,"l":169.8,"c":169.9},
{"i":590,"o":171.2,"h":171.3,"l":168.1,"c":168.1},{"i":591,"o":169.6,"h":169.9,"l":167.9,"c":168.1},{"i":592,"o":169.6,"h":169.8,"l":167.9,"c":168.1},{"i":593,"o":168.4,"h":168.6,"l":168.2,"c":168.4},{"i":594,"o":167.4,"h":169.0,"l":167.2,"c":168.3},{"i":595,"o":168.0,"h":169.2,"l":167.8,"c":169.0},{"i":596,"o":168.8,"h":169.9,"l":168.7,"c":169.8},{"i":597,"o":169.9,"h":170.0,"l":168.9,"c":168.9},{"i":598,"o":168.8,"h":170.8,"l":168.7,"c":169.9},{"i":599,"o":168.8,"h":170.1,"l":168.7,"c":170.0},
{"i":600,"o":169.9,"h":170.7,"l":169.8,"c":170.6},{"i":601,"o":170.6,"h":173.0,"l":170.5,"c":172.8},{"i":602,"o":172.8,"h":173.4,"l":172.6,"c":172.9},{"i":603,"o":172.8,"h":173.1,"l":172.8,"c":173.0},{"i":604,"o":172.9,"h":173.1,"l":172.2,"c":172.6},{"i":605,"o":172.9,"h":173.1,"l":171.2,"c":171.6},{"i":606,"o":171.7,"h":171.8,"l":168.1,"c":168.6},{"i":607,"o":168.6,"h":168.8,"l":167.0,"c":167.7},{"i":608,"o":167.7,"h":168.1,"l":167.6,"c":167.9},{"i":609,"o":168.1,"h":168.2,"l":167.1,"c":167.8},
{"i":610,"o":168.1,"h":168.2,"l":167.4,"c":167.7},{"i":611,"o":167.4,"h":167.5,"l":167.3,"c":167.4},{"i":612,"o":167.5,"h":167.6,"l":166.2,"c":167.1},{"i":613,"o":167.1,"h":167.5,"l":166.9,"c":167.4},{"i":614,"o":167.7,"h":168.2,"l":165.7,"c":166.9},{"i":615,"o":166.4,"h":168.1,"l":166.3,"c":167.8},{"i":616,"o":167.8,"h":167.9,"l":166.2,"c":166.4},{"i":617,"o":167.0,"h":167.2,"l":166.9,"c":167.1},{"i":618,"o":167.5,"h":169.8,"l":166.8,"c":169.0},{"i":619,"o":169.0,"h":169.3,"l":168.8,"c":169.2},
{"i":620,"o":169.0,"h":169.2,"l":168.9,"c":169.1},{"i":621,"o":168.8,"h":169.5,"l":168.6,"c":169.1},{"i":622,"o":169.1,"h":169.3,"l":168.9,"c":169.2},{"i":623,"o":169.2,"h":169.4,"l":167.6,"c":167.7},{"i":624,"o":167.7,"h":167.8,"l":165.7,"c":166.4},{"i":625,"o":166.4,"h":166.5,"l":166.3,"c":166.4},{"i":626,"o":167.2,"h":167.9,"l":165.7,"c":166.8},{"i":627,"o":166.9,"h":167.4,"l":166.4,"c":167.2},{"i":628,"o":167.0,"h":167.7,"l":166.2,"c":167.2},{"i":629,"o":167.1,"h":167.3,"l":166.9,"c":167.2},
{"i":630,"o":168.1,"h":168.8,"l":166.6,"c":166.8},{"i":631,"o":166.8,"h":166.9,"l":166.2,"c":166.5},{"i":632,"o":166.5,"h":166.9,"l":166.4,"c":166.8},{"i":633,"o":167.2,"h":167.6,"l":164.1,"c":164.8},{"i":634,"o":164.9,"h":165.3,"l":163.5,"c":164.7},{"i":635,"o":164.9,"h":165.4,"l":163.5,"c":164.1},{"i":636,"o":163.9,"h":164.0,"l":163.8,"c":163.9},{"i":637,"o":164.4,"h":164.7,"l":164.3,"c":164.6},{"i":638,"o":164.9,"h":165.5,"l":162.9,"c":164.1},{"i":639,"o":164.3,"h":164.4,"l":163.5,"c":163.8},
{"i":640,"o":164.3,"h":164.5,"l":163.2,"c":163.9},{"i":641,"o":163.9,"h":164.1,"l":162.8,"c":163.4},{"i":642,"o":163.6,"h":164.4,"l":163.5,"c":164.2},{"i":643,"o":163.6,"h":166.9,"l":163.5,"c":166.6},{"i":644,"o":166.2,"h":167.0,"l":165.9,"c":166.8},{"i":645,"o":167.0,"h":167.2,"l":166.2,"c":166.3},{"i":646,"o":166.9,"h":167.1,"l":164.6,"c":164.8},{"i":647,"o":163.9,"h":165.1,"l":163.8,"c":164.9},{"i":648,"o":163.9,"h":164.7,"l":163.8,"c":164.6},{"i":649,"o":164.0,"h":164.7,"l":163.8,"c":164.5},
{"i":650,"o":164.5,"h":166.5,"l":164.4,"c":165.9},{"i":651,"o":166.0,"h":166.4,"l":164.4,"c":165.2},{"i":652,"o":165.6,"h":165.9,"l":164.8,"c":165.0},{"i":653,"o":164.9,"h":165.3,"l":164.8,"c":165.2},{"i":654,"o":164.9,"h":165.6,"l":164.5,"c":165.2},{"i":655,"o":164.8,"h":164.9,"l":164.7,"c":164.8},{"i":656,"o":164.7,"h":165.0,"l":164.6,"c":164.9},{"i":657,"o":164.4,"h":164.6,"l":163.3,"c":163.4},{"i":658,"o":163.4,"h":163.5,"l":162.1,"c":162.3},{"i":659,"o":162.6,"h":162.7,"l":161.4,"c":162.1},
{"i":660,"o":162.2,"h":162.3,"l":161.5,"c":161.8},{"i":661,"o":162.1,"h":162.6,"l":160.8,"c":160.9},{"i":662,"o":161.0,"h":161.1,"l":159.9,"c":160.0},{"i":663,"o":160.2,"h":160.3,"l":159.2,"c":159.6},{"i":664,"o":159.7,"h":159.8,"l":158.9,"c":158.9},{"i":665,"o":158.9,"h":159.2,"l":158.7,"c":159.0},{"i":666,"o":159.0,"h":159.0,"l":154.3,"c":155.7},{"i":667,"o":155.7,"h":155.7,"l":155.0,"c":155.4},{"i":668,"o":155.6,"h":155.7,"l":153.7,"c":154.5},{"i":669,"o":155.0,"h":155.2,"l":154.1,"c":154.2},
{"i":670,"o":155.0,"h":157.1,"l":154.0,"c":155.7},{"i":671,"o":155.2,"h":156.2,"l":154.2,"c":155.8},{"i":672,"o":155.2,"h":157.2,"l":154.6,"c":156.6},{"i":673,"o":156.6,"h":157.2,"l":156.5,"c":156.7},{"i":674,"o":155.0,"h":156.2,"l":154.3,"c":155.7},{"i":675,"o":155.7,"h":156.2,"l":154.2,"c":155.5},{"i":676,"o":155.3,"h":155.7,"l":154.0,"c":154.1},{"i":677,"o":154.1,"h":154.7,"l":154.0,"c":154.3},{"i":678,"o":154.2,"h":155.5,"l":151.9,"c":155.3},{"i":679,"o":155.2,"h":156.3,"l":155.0,"c":155.8},
{"i":680,"o":155.8,"h":157.9,"l":155.1,"c":157.5},{"i":681,"o":157.5,"h":157.9,"l":157.4,"c":157.7},{"i":682,"o":158.1,"h":161.6,"l":157.4,"c":160.4},{"i":683,"o":160.4,"h":161.9,"l":159.5,"c":160.7},{"i":684,"o":160.4,"h":161.6,"l":160.3,"c":160.7},{"i":685,"o":160.5,"h":161.1,"l":160.4,"c":161.0},{"i":686,"o":163.7,"h":165.0,"l":161.9,"c":163.3},{"i":687,"o":163.2,"h":164.3,"l":162.4,"c":164.2},{"i":688,"o":162.9,"h":165.2,"l":162.8,"c":164.2},{"i":689,"o":162.9,"h":164.4,"l":162.6,"c":163.7},
{"i":690,"o":162.9,"h":163.3,"l":161.9,"c":162.0},{"i":691,"o":162.0,"h":164.7,"l":161.4,"c":164.2},{"i":692,"o":164.2,"h":164.7,"l":163.9,"c":164.5},{"i":693,"o":164.5,"h":165.0,"l":164.4,"c":164.9},{"i":694,"o":166.6,"h":167.1,"l":164.9,"c":165.0},{"i":695,"o":165.0,"h":169.8,"l":164.9,"c":169.7},{"i":696,"o":169.7,"h":170.4,"l":168.9,"c":170.2},{"i":697,"o":170.2,"h":170.4,"l":169.7,"c":170.2},{"i":698,"o":168.9,"h":170.9,"l":167.6,"c":170.0},{"i":699,"o":169.9,"h":173.0,"l":168.7,"c":172.4},
{"i":700,"o":172.4,"h":173.6,"l":172.3,"c":172.8},{"i":701,"o":172.8,"h":173.1,"l":172.7,"c":172.9},{"i":702,"o":173.4,"h":174.5,"l":173.3,"c":173.9},{"i":703,"o":173.9,"h":174.2,"l":171.9,"c":172.0},{"i":704,"o":172.0,"h":172.2,"l":170.4,"c":170.5},{"i":705,"o":171.3,"h":171.4,"l":170.4,"c":170.5},{"i":706,"o":170.3,"h":173.7,"l":169.8,"c":173.4},{"i":707,"o":173.4,"h":174.3,"l":173.3,"c":174.0},{"i":708,"o":173.9,"h":174.2,"l":173.6,"c":173.7},{"i":709,"o":173.7,"h":173.8,"l":172.8,"c":172.8},
{"i":710,"o":172.8,"h":178.5,"l":172.6,"c":177.7},{"i":711,"o":177.7,"h":180.2,"l":177.4,"c":178.9},{"i":712,"o":178.9,"h":180.6,"l":178.5,"c":180.1},{"i":713,"o":180.1,"h":182.1,"l":180.0,"c":181.4},{"i":714,"o":181.4,"h":184.4,"l":181.2,"c":183.6},{"i":715,"o":183.6,"h":185.2,"l":183.3,"c":184.7},{"i":716,"o":184.7,"h":185.6,"l":183.4,"c":185.1},{"i":717,"o":185.1,"h":185.5,"l":178.8,"c":181.8},{"i":718,"o":183.7,"h":183.9,"l":180.1,"c":180.9},{"i":719,"o":180.9,"h":183.6,"l":180.8,"c":183.0},
{"i":720,"o":183.2,"h":183.4,"l":182.2,"c":182.4},{"i":721,"o":182.2,"h":184.1,"l":180.8,"c":183.6},{"i":722,"o":183.6,"h":187.7,"l":183.4,"c":187.4},{"i":723,"o":186.1,"h":187.7,"l":185.7,"c":186.9},{"i":724,"o":186.0,"h":186.4,"l":183.1,"c":183.6},{"i":725,"o":185.2,"h":185.4,"l":181.9,"c":183.2},{"i":726,"o":183.2,"h":183.7,"l":182.7,"c":183.3},{"i":727,"o":183.1,"h":183.6,"l":182.6,"c":183.3},{"i":728,"o":183.3,"h":183.7,"l":182.7,"c":183.4},{"i":729,"o":183.4,"h":184.0,"l":183.2,"c":183.5},
{"i":730,"o":183.5,"h":183.5,"l":182.1,"c":182.7},{"i":731,"o":182.7,"h":183.5,"l":182.3,"c":183.0},{"i":732,"o":182.8,"h":183.3,"l":182.6,"c":183.2},{"i":733,"o":183.6,"h":185.6,"l":183.4,"c":184.2},{"i":734,"o":184.2,"h":184.5,"l":183.6,"c":184.4},{"i":735,"o":183.6,"h":184.4,"l":183.2,"c":184.2},{"i":736,"o":183.4,"h":184.3,"l":183.2,"c":184.2},{"i":737,"o":184.6,"h":186.0,"l":184.4,"c":185.1},{"i":738,"o":185.1,"h":186.7,"l":184.7,"c":186.4},{"i":739,"o":186.4,"h":186.9,"l":186.0,"c":186.7},
{"i":740,"o":186.7,"h":188.8,"l":185.9,"c":187.0},{"i":741,"o":186.7,"h":187.9,"l":186.4,"c":187.7},{"i":742,"o":187.6,"h":188.0,"l":185.9,"c":187.9},{"i":743,"o":187.7,"h":188.4,"l":187.5,"c":188.0},{"i":744,"o":188.0,"h":188.6,"l":187.6,"c":188.3},{"i":745,"o":188.3,"h":189.1,"l":186.2,"c":186.4},{"i":746,"o":186.6,"h":186.9,"l":185.6,"c":186.4},{"i":747,"o":186.4,"h":186.5,"l":184.7,"c":185.2},{"i":748,"o":185.28,"h":185.81,"l":184.6,"c":185.49}
    ],
    "levels": [
      {"lvl": "212.50", "price": 212.5, "note": ""},
      {"lvl": "206.25", "price": 206.25, "note": ""},
      {"lvl": "200.00", "price": 200.0, "note": ""},
      {"lvl": "193.75", "price": 193.75, "note": "D1[7/8] H4[+2/8]"},
      {"lvl": "190.62", "price": 190.62, "note": "H4[+1/8]"},
      {"lvl": "187.50", "price": 187.5, "note": "MN1PIVOT W1PIVOT D1[6/8] H4RES"},
      {"lvl": "185.49", "price": 185.49, "note": ""},
      {"lvl": "184.38", "price": 184.38, "note": "H4[7/8]"},
      {"lvl": "181.25", "price": 181.25, "note": "D1[5/8] H4[6/8]"},
      {"lvl": "178.12", "price": 178.12, "note": "H4[5/8]"},
      {"lvl": "175.00", "price": 175.0, "note": "D1PIVOT H4PIVOT"},
      {"lvl": "171.88", "price": 171.88, "note": "MN1[3/8] W1[3/8] H4[3/8]"},
      {"lvl": "168.75", "price": 168.75, "note": "D1[3/8] H4[2/8]"},
      {"lvl": "165.62", "price": 165.62, "note": "H4[1/8]"},
      {"lvl": "162.50", "price": 162.5, "note": "D1[2/8] H4SUP"},
      {"lvl": "159.38", "price": 159.38, "note": "H4[-1/8]"},
      {"lvl": "156.25", "price": 156.25, "note": "MN1[2/8] W1[2/8] D1[1/8] H4[-2/8]"}
    ],
    "curve": [
      {"arc": "L", "i": 675.5, "p": 150.77}, {"arc": "L", "i": 675.75, "p": 156.22}, {"arc": "L", "i": 678.0, "p": 162.47}, {"arc": "L", "i": 681.0, "p": 168.66}, {"arc": "L", "i": 683.75, "p": 171.88}, {"arc": "L", "i": 688.25, "p": 175.0}, {"arc": "L", "i": 697.0, "p": 181.24}, {"arc": "L", "i": 707.25, "p": 187.48}, {"arc": "L", "i": 723.25, "p": 193.73}, {"arc": "L", "i": 750.5, "p": 200.02}, {"arc": "L", "i": 785.5, "p": 206.27}, {"arc": "L", "i": 827.75, "p": 212.51},
      {"arc": "R", "i": 680.25, "p": 150.87}, {"arc": "R", "i": 698.75, "p": 153.0}, {"arc": "R", "i": 717.0, "p": 156.32}, {"arc": "R", "i": 733.75, "p": 159.64}, {"arc": "R", "i": 755.0, "p": 165.24}, {"arc": "R", "i": 772.0, "p": 170.19}, {"arc": "R", "i": 797.25, "p": 181.24}, {"arc": "R", "i": 807.25, "p": 187.68}, {"arc": "R", "i": 816.25, "p": 194.97}, {"arc": "R", "i": 821.0, "p": 202.06}, {"arc": "R", "i": 825.25, "p": 208.1}, {"arc": "R", "i": 827.75, "p": 212.51}
    ],
    "arrows": [
      {"arrow": "up", "style": "solid", "i": 781.5, "p": 181.84, "i2": 825.5, "p2": 211.72},
      {"arrow": "a1", "style": "solid", "i": 751.75, "p": 185.41, "i2": 757.0, "p2": 182.48},
      {"arrow": "a2", "style": "dash", "i": 758.0, "p": 180.8, "i2": 765.0, "p2": 175.69},
      {"arrow": "a3", "style": "dash", "i": 771.5, "p": 175.94, "i2": 779.25, "p2": 180.94}
    ]
  },
  "layer": [
    {
      "data": {"name": "levels"},
      "mark": {"type": "rule"},
      "encoding": {
        "y": {"field": "price", "type": "quantitative", "title": null, "scale": {"domain": [149.63, 244.37], "nice": false, "zero": false}},
        "stroke": {"field": "lvl", "type": "nominal", "legend": null, "scale": {"domain": ["212.50","206.25","200.00","193.75","190.62","187.50","185.49","184.38","181.25","178.12","175.00","171.88","168.75","165.62","162.50","159.38","156.25"], "range": ["#ff0000","#ff0000","#ff0000","#c71585","#ff00ff","#1e90ff","#c0c0c0","#ff8c00","#ff4500","#556b2f","#1e90ff","#556b2f","#ff4500","#ff8c00","#1e90ff","#ff00ff","#c71585"]}},
        "strokeDash": {"field": "lvl", "type": "nominal", "legend": null, "scale": {"domain": ["212.50","206.25","200.00","193.75","190.62","187.50","185.49","184.38","181.25","178.12","175.00","171.88","168.75","165.62","162.50","159.38","156.25"], "range": [[1,0],[1,0],[1,0],[1,0],[18,9],[1,0],[1,0],[18,9],[1,0],[18,9],[1,0],[1,0],[1,0],[18,9],[1,0],[18,9],[1,0]]}},
        "size": {"field": "lvl", "type": "nominal", "legend": null, "scale": {"type": "ordinal", "domain": ["212.50","206.25","200.00","193.75","190.62","187.50","185.49","184.38","181.25","178.12","175.00","171.88","168.75","165.62","162.50","159.38","156.25"], "range": [1.3,1.3,1.3,1.5,1.5,3.2,1.3,1.5,1.5,1.5,1.5,3.2,1.3,1.3,1.3,1.5,3.2]}}
      }
    },
    {
      "data": {"name": "levels"},
      "mark": {"type": "text", "align": "center", "baseline": "top", "dy": 0, "font": "Liberation Sans", "fontSize": 21},
      "encoding": {
        "x": {"datum": 722, "type": "quantitative", "scale": {"domain": [-0.5, 937.75], "nice": false, "zero": false}},
        "y": {"field": "price", "type": "quantitative", "title": null},
        "text": {"field": "note"},
        "fill": {"field": "lvl", "type": "nominal", "legend": null, "scale": {"domain": ["212.50","206.25","200.00","193.75","190.62","187.50","185.49","184.38","181.25","178.12","175.00","171.88","168.75","165.62","162.50","159.38","156.25"], "range": ["#ff0000","#ff0000","#ff0000","#c71585","#ff00ff","#1e90ff","#000000","#ff8c00","#ff4500","#556b2f","#1e90ff","#556b2f","#ff4500","#ff8c00","#1e90ff","#ff00ff","#c71585"]}}
      }
    },
    {
      "data": {"name": "bars"},
      "mark": {"type": "rule", "stroke": "black", "strokeWidth": 1.2},
      "encoding": {
        "x": {"field": "i", "type": "quantitative", "title": null, "scale": {"domain": [-0.5, 937.75], "nice": false, "zero": false},
          "axis": {"title": null, "values": [0,16,32,48,64,80,96,112,128,144,160,176,192,208,224,240,256,272,288,304,320,336,352,368,384,400,416,432,448,464,480,496,512,528,544,560,576,592,608,624,640,656,672,688,704,720,736,752,768,784,800,816,832,848,864,880,896,912,928],
            "grid": true, "domain": true, "domainWidth": 1.5, "tickSize": 6, "labelPadding": 1, "labelAlign": "left", "labelBaseline": "top", "labelFlush": false, "labelOverlap": false, "labelBound": false, "labelFontSize": 18.5,
            "tickOpacity": {"condition": {"test": "datum.value % 32 === 0 && datum.value <= 736", "value": 1}, "value": 0},
            "labelExpr": "(datum.value % 32 === 0 && datum.value <= 736) ? ['6 Feb 2020','21 Feb 12:00','11 Mar 08:00','25 Mar 16:00','9 Apr 12:00','24 Apr 08:00','12 May 16:00','27 May 12:00','11 Jun 08:00','29 Jun 16:00','10 Jul 12:00','21 Jul 00:00','29 Jul 20:00','7 Aug 08:00','17 Aug 20:00','26 Aug 08:00','3 Sep 20:00','15 Sep 12:00','25 Sep 16:00','7 Oct 16:00','19 Oct 16:00','29 Oct 16:00','11 Nov 16:00','23 Nov 16:00'][datum.value / 32] : ''"}},
        "y": {"field": "l", "type": "quantitative", "title": null, "scale": {"domain": [149.63, 244.37], "nice": false, "zero": false},
          "axis": {"title": null, "orient": "right", "values": [151.4,154.65,157.85,161.05,164.3,167.5,170.7,173.95,177.15,180.35,183.6,186.8,190.0,193.25,196.45,199.7,202.9,206.1,209.35,212.55,215.75,219.0,222.2,225.4,228.65,231.85,235.05,238.3,241.5],
            "format": ".2f", "grid": true, "domain": true, "domainWidth": 1.5, "tickSize": 4, "labelPadding": 6, "labelAlign": "left", "labelBaseline": "middle", "labelOverlap": false, "labelBound": false, "labelFlush": false, "labelFontSize": 18.5}},
        "y2": {"field": "h"}
      }
    },
    {
      "data": {"name": "bars"},
      "mark": {"type": "bar", "size": 2.6, "stroke": "black", "strokeWidth": 1},
      "encoding": {
        "x": {"field": "i", "type": "quantitative", "title": null},
        "y": {"field": "o", "type": "quantitative", "title": null},
        "y2": {"field": "c"},
        "fill": {"condition": {"test": "datum.c >= datum.o", "value": "white"}, "value": "black"}
      }
    },
    {
      "data": {"name": "curve"},
      "mark": {"type": "line", "stroke": "#f5a21d", "strokeWidth": 4.5, "strokeCap": "round", "interpolate": "monotone"},
      "encoding": {
        "x": {"field": "i", "type": "quantitative", "title": null},
        "y": {"field": "p", "type": "quantitative", "title": null},
        "detail": {"field": "arc"}
      }
    },
    {
      "data": {"name": "arrows"},
      "mark": {"type": "rule", "stroke": "#ee4343", "strokeWidth": 5, "strokeCap": "butt"},
      "encoding": {
        "x": {"field": "i", "type": "quantitative", "title": null},
        "y": {"field": "p", "type": "quantitative", "title": null},
        "x2": {"field": "i2"},
        "y2": {"field": "p2"},
        "strokeDash": {"field": "style", "type": "nominal", "legend": null, "scale": {"domain": ["solid", "dash"], "range": [[1, 0], [14, 7]]}}
      }
    },
    {
      "data": {"name": "arrows"},
      "mark": {"type": "point", "shape": "triangle-up", "filled": true, "fill": "#ee4343", "opacity": 1, "strokeWidth": 0},
      "encoding": {
        "x": {"field": "i2", "type": "quantitative", "title": null},
        "y": {"field": "p2", "type": "quantitative", "title": null},
        "angle": {"field": "arrow", "type": "nominal", "legend": null, "scale": {"type": "ordinal", "domain": ["up", "a1", "a2", "a3"], "range": [16.4, 160, 165, 17]}},
        "size": {"field": "arrow", "type": "nominal", "legend": null, "scale": {"type": "ordinal", "domain": ["up", "a1", "a2", "a3"], "range": [800, 520, 520, 520]}}
      }
    },
    {
      "data": {"values": [{"t": "?"}]},
      "mark": {"type": "text", "align": "center", "baseline": "middle", "fontSize": 58, "font": "Liberation Sans", "fill": "#111111"},
      "encoding": {
        "x": {"datum": 769.25, "type": "quantitative"},
        "y": {"datum": 179.26, "type": "quantitative"},
        "text": {"field": "t"}
      }
    },
    {
      "data": {"values": [{"t": "shift"}]},
      "mark": {"type": "point", "shape": "triangle-down", "filled": true, "fill": "#a8a8a8", "strokeWidth": 0, "size": 140, "clip": false},
      "encoding": {
        "x": {"datum": 748.75, "type": "quantitative"},
        "y": {"datum": 244.15, "type": "quantitative"}
      }
    },
    {
      "data": {"name": "levels"},
      "mark": {"type": "bar", "size": 23, "clip": false},
      "encoding": {
        "x": {"datum": 938.25, "type": "quantitative"},
        "x2": {"datum": 955.75},
        "y": {"field": "price", "type": "quantitative", "title": null},
        "fill": {"field": "lvl", "type": "nominal", "legend": null}
      }
    },
    {
      "data": {"name": "levels"},
      "mark": {"type": "text", "align": "left", "baseline": "middle", "fill": "white", "font": "Liberation Sans", "fontSize": 18.5, "clip": false},
      "encoding": {
        "x": {"datum": 940.25, "type": "quantitative"},
        "y": {"field": "price", "type": "quantitative", "title": null},
        "text": {"field": "lvl"}
      }
    },
    {
      "data": {"values": [{"t": "#GAZP,H4  185.28 185.81 184.60 185.49"}]},
      "mark": {"type": "text", "align": "left", "baseline": "top", "fontSize": 19, "font": "Liberation Sans", "fill": "black"},
      "encoding": {
        "x": {"datum": 1.25, "type": "quantitative"},
        "y": {"datum": 244.1, "type": "quantitative"},
        "text": {"field": "t"}
      }
    }
  ]
}
